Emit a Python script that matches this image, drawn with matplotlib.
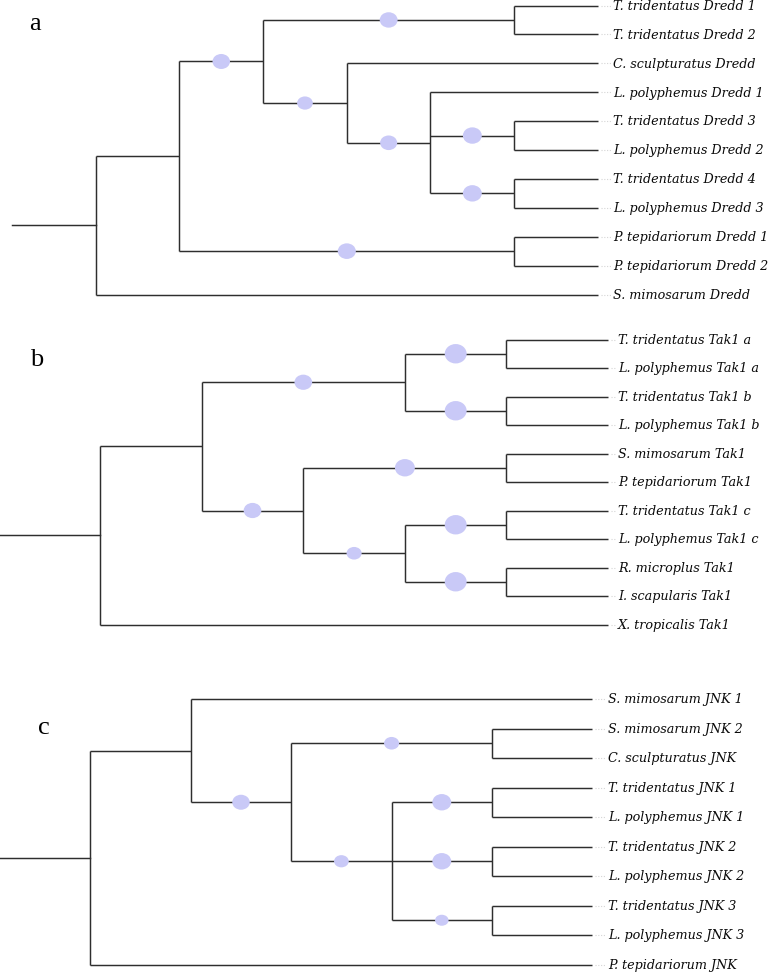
import matplotlib
matplotlib.use("Agg")
import matplotlib.pyplot as plt
from matplotlib.patches import Ellipse

# trees: internal node = (level, support of branch above it, children), leaf = name
# levels are cladogram steps from the root stem (level 0)
tree_a = (1, None, [
    (2, None, [
        (3, 0.75, [
            (6, 0.77, ["T. tridentatus Dredd 1", "T. tridentatus Dredd 2"]),
            (4, 0.66, [
                "C. sculpturatus Dredd",
                (5, 0.73, [
                    "L. polyphemus Dredd 1",
                    (6, 0.82, ["T. tridentatus Dredd 3", "L. polyphemus Dredd 2"]),
                    (6, 0.82, ["T. tridentatus Dredd 4", "L. polyphemus Dredd 3"]),
                ]),
            ]),
        ]),
        (6, 0.78, ["P. tepidariorum Dredd 1", "P. tepidariorum Dredd 2"]),
    ]),
    "S. mimosarum Dredd",
])

tree_b = (1, None, [
    (2, None, [
        (4, 0.76, [
            (5, 0.97, ["T. tridentatus Tak1 a", "L. polyphemus Tak1 a"]),
            (5, 0.97, ["T. tridentatus Tak1 b", "L. polyphemus Tak1 b"]),
        ]),
        (3, 0.76, [
            (5, 0.87, ["S. mimosarum Tak1", "P. tepidariorum Tak1"]),
            (4, 0.63, [
                (5, 0.97, ["T. tridentatus Tak1 c", "L. polyphemus Tak1 c"]),
                (5, 0.97, ["R. microplus Tak1", "I. scapularis Tak1"]),
            ]),
        ]),
    ]),
    "X. tropicalis Tak1",
])

tree_c = (1, None, [
    (2, None, [
        "S. mimosarum JNK 1",
        (3, 0.75, [
            (5, 0.63, ["S. mimosarum JNK 2", "C. sculpturatus JNK"]),
            (4, 0.61, [
                (5, 0.82, ["T. tridentatus JNK 1", "L. polyphemus JNK 1"]),
                (5, 0.82, ["T. tridentatus JNK 2", "L. polyphemus JNK 2"]),
                (5, 0.55, ["T. tridentatus JNK 3", "L. polyphemus JNK 3"]),
            ]),
        ]),
    ]),
    "P. tepidariorum JNK",
])

panel_letters = ["a", "b", "c"]

# layout in pixels: x of level 0, step per level, y of first leaf, step per leaf
layout = [
    dict(tree=tree_a, leaf_level=7, x0=12, dx=83.7, y0=5.5, dy=28.9, gap=15, letter=(29, 30)),
    dict(tree=tree_b, leaf_level=6, x0=-1.5, dx=101.6, y0=339.5, dy=28.5, gap=10, letter=(30, 366)),
    dict(tree=tree_c, leaf_level=6, x0=-10, dx=100.4, y0=699, dy=29.5, gap=16, letter=(38, 734)),
]

line_col = "#2e2e2e"
dot_col = "#c9c9f7"

fig = plt.figure(figsize=(7.78, 9.74), dpi=100)
ax = fig.add_axes([0, 0, 1, 1])
ax.set_xlim(0, 778)
ax.set_ylim(974, 0)
ax.axis("off")


def draw_tree(p):
    counter = [0]
    xe = p["x0"] + p["leaf_level"] * p["dx"]

    def walk(node):
        if isinstance(node, str):
            y = p["y0"] + counter[0] * p["dy"]
            counter[0] += 1
            ax.plot([xe + 3, xe + p["gap"] - 2], [y, y], ls=(0, (1, 1.5)),
                    color="#d5d5d5", lw=0.8)
            ax.text(xe + p["gap"], y + 4.3, node, fontsize=9.2, family="DejaVu Serif",
                    style="italic", ha="left", va="baseline", color="#0a0a0a")
            return y, p["leaf_level"], None
        level, support, children = node
        x = p["x0"] + level * p["dx"]
        ys = []
        for ch in children:
            cy, clev, csup = walk(ch)
            cx = p["x0"] + clev * p["dx"]
            ax.plot([x, cx], [cy, cy], color=line_col, lw=1.05, solid_capstyle="butt")
            if csup:
                h = 20 * csup
                ax.add_patch(Ellipse(((x + cx) / 2, cy), h + 2.5, h,
                                     facecolor=dot_col, edgecolor="none", zorder=3))
            ys.append(cy)
        ax.plot([x, x], [min(ys), max(ys)], color=line_col, lw=1.05, solid_capstyle="butt")
        return (min(ys) + max(ys)) / 2, level, support

    y, level, _ = walk(p["tree"])
    ax.plot([p["x0"], p["x0"] + level * p["dx"]], [y, y], color=line_col, lw=1.05)


for p, letter in zip(layout, panel_letters):
    draw_tree(p)
    ax.text(p["letter"][0], p["letter"][1], letter, fontsize=19,
            family="Liberation Serif", ha="left", va="baseline", color="black")

fig.savefig("out.png", dpi=100)
